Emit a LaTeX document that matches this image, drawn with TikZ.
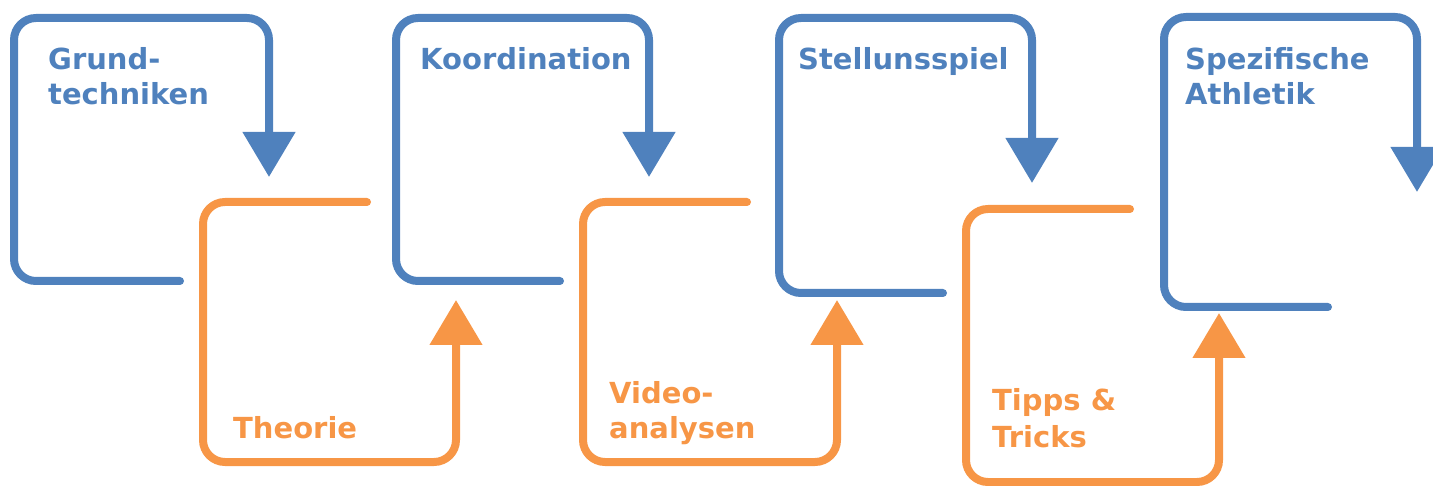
\documentclass[tikz,border=0pt]{standalone}
\usepackage{fontspec}
\setmainfont{DejaVu Sans}
\usetikzlibrary{arrows.meta}
\definecolor{stepblue}{HTML}{4F81BD}
\definecolor{steporange}{HTML}{F79646}
\begin{document}
\begin{tikzpicture}[x=1pt,y=-1pt,
  loop/.style={line width=8pt,line cap=round,rounded corners=22pt,
    -{Triangle[width=51pt,length=45pt]}},
  lbl/.style={anchor=base west,inner sep=0pt,align=left,
    font=\bfseries\fontsize{29}{35}\selectfont}]
\useasboundingbox (0,0) rectangle (1433,486);
% blue loops: free end, bottom, left, top, right, tip
\foreach \ex/\yb/\xl/\yt/\xr/\ytip in {180/281/14/18/269/177,560/281/396/18/649/177,
    943/293/779/18/1032/183,1328/307/1164/17/1417/192}{
  \draw[loop,stepblue] (\ex,\yb) -- (\xl,\yb) -- (\xl,\yt) -- (\xr,\yt) -- (\xr,\ytip);
}
% orange loops: free end, top, left, bottom, right, tip
\foreach \ex/\yt/\xl/\yb/\xr/\ytip in {367/202/203/462/456/300,747/202/583/462/837/300,
    1130/209/966/482/1219/313}{
  \draw[loop,steporange] (\ex,\yt) -- (\xl,\yt) -- (\xl,\yb) -- (\xr,\yb) -- (\xr,\ytip);
}
% labels (base = last line)
\node[lbl,stepblue] (grund) at (48,105) {Grund-\\techniken};
\node[lbl,stepblue] (koord) at (420,70) {Koordination};
\node[lbl,stepblue] (stell) at (798,70) {Stellunsspiel};
\node[lbl,stepblue] (athl) at (1185,105) {Spezifische\\Athletik};
\node[lbl,steporange] (theo) at (233,438) {Theorie};
\node[lbl,steporange] (video) at (609,438) {Video-\\analysen};
\node[lbl,steporange,font=\bfseries\fontsize{29}{37}\selectfont] (tipps) at (992,447) {Tipps \&\\Tricks};
\end{tikzpicture}
\end{document}
